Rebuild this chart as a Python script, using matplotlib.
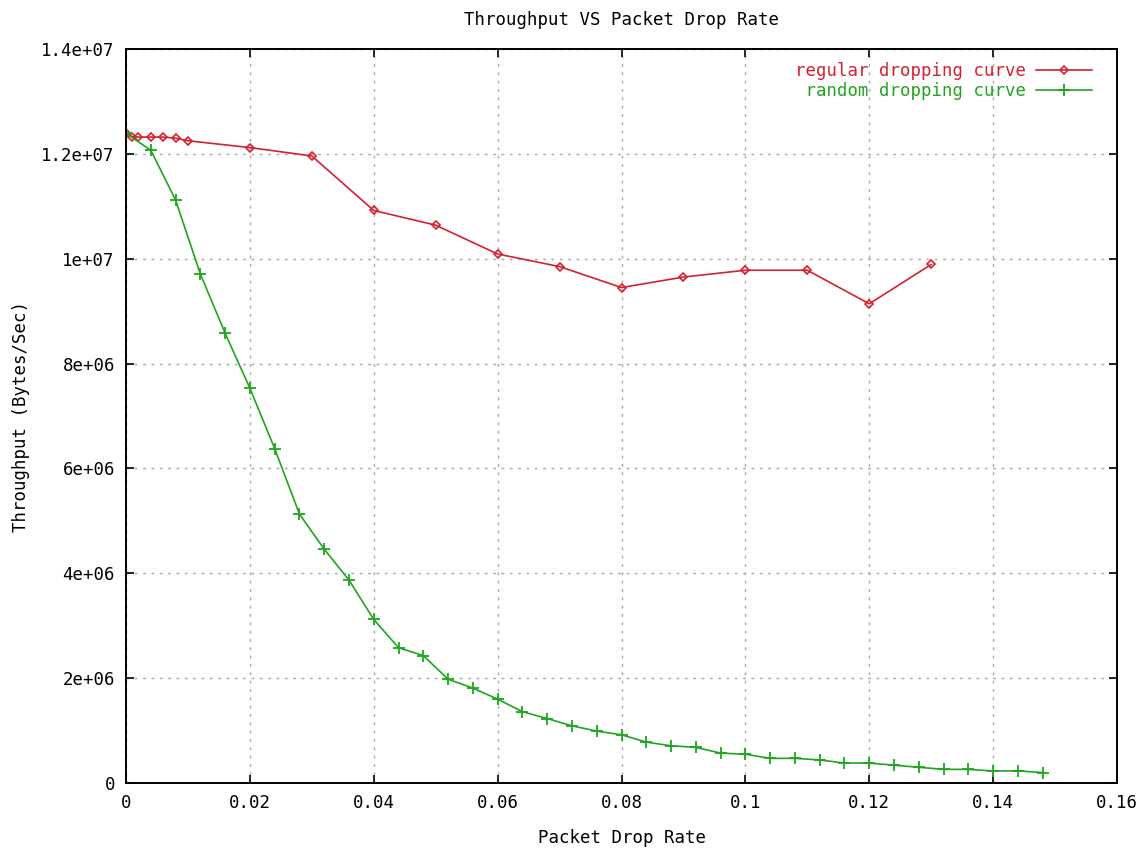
import matplotlib
matplotlib.use("Agg")
import matplotlib.pyplot as plt
from matplotlib.ticker import FixedLocator

# Data
regular_x = [0, 0.001, 0.002, 0.004, 0.006, 0.008, 0.01, 0.02, 0.03, 0.04, 0.05,
             0.06, 0.07, 0.08, 0.09, 0.10, 0.11, 0.12, 0.13]
regular_y = [12.39e6, 12.33e6, 12.32e6, 12.32e6, 12.32e6, 12.30e6, 12.25e6, 12.12e6,
             11.96e6, 10.92e6, 10.64e6, 10.09e6, 9.85e6, 9.45e6, 9.65e6, 9.78e6,
             9.78e6, 9.14e6, 9.89e6]

random_x = [0, 0.004, 0.008, 0.012, 0.016, 0.02, 0.024, 0.028, 0.032, 0.036, 0.04,
            0.044, 0.048, 0.052, 0.056, 0.06, 0.064, 0.068, 0.072, 0.076, 0.08,
            0.084, 0.088, 0.092, 0.096, 0.10, 0.104, 0.108, 0.112, 0.116, 0.12,
            0.124, 0.128, 0.132, 0.136, 0.14, 0.144, 0.148]
random_y = [12.39e6, 12.07e6, 11.12e6, 9.71e6, 8.58e6, 7.53e6, 6.38e6, 5.13e6,
            4.46e6, 3.87e6, 3.12e6, 2.58e6, 2.43e6, 1.98e6, 1.81e6, 1.60e6,
            1.36e6, 1.23e6, 1.09e6, 0.99e6, 0.92e6, 0.78e6, 0.71e6, 0.68e6,
            0.57e6, 0.55e6, 0.47e6, 0.47e6, 0.44e6, 0.38e6, 0.38e6, 0.34e6,
            0.30e6, 0.26e6, 0.26e6, 0.23e6, 0.23e6, 0.20e6]

x_ticks = [0, 0.02, 0.04, 0.06, 0.08, 0.1, 0.12, 0.14, 0.16]
x_tick_labels = ["0", "0.02", "0.04", "0.06", "0.08", "0.1", "0.12", "0.14", "0.16"]
y_ticks = [0, 2e6, 4e6, 6e6, 8e6, 1e7, 1.2e7, 1.4e7]
y_tick_labels = ["0", "2e+06", "4e+06", "6e+06", "8e+06", "1e+07", "1.2e+07", "1.4e+07"]

RED = "#d42030"
GREEN = "#1fa51f"
FONT = "DejaVu Sans Mono"
FS = 12.5

plt.rcParams["font.family"] = FONT

fig = plt.figure(figsize=(11.41, 8.49), dpi=100)
ax = fig.add_axes([126 / 1141, 66 / 849, (1117 - 126) / 1141, (783 - 49) / 849])

ax.plot(regular_x, regular_y, color=RED, lw=1.2, marker="D", ms=4,
        mfc="none", mec=RED, mew=1.2, label="regular dropping curve")
ax.plot(random_x, random_y, color=GREEN, lw=1.2, marker="+", ms=9,
        mew=1.3, label=" random dropping curve")

ax.set_xlim(0, 0.16)
ax.set_ylim(0, 1.4e7)
ax.xaxis.set_major_locator(FixedLocator(x_ticks))
ax.set_xticklabels(x_tick_labels)
ax.yaxis.set_major_locator(FixedLocator(y_ticks))
ax.set_yticklabels(y_tick_labels)

ax.tick_params(direction="in", length=6, width=1.2, top=True, right=True,
               labelsize=FS, pad=8, colors="black")
for s in ax.spines.values():
    s.set_linewidth(1.4)

ax.grid(True, color="#a8a8a8", linestyle=(0, (2, 4)), linewidth=1.0)
ax.set_axisbelow(True)

ax.set_title("Throughput VS Packet Drop Rate", fontsize=FS, pad=17)
ax.set_xlabel("Packet Drop Rate", fontsize=FS, labelpad=12)
ax.set_ylabel("Throughput (Bytes/Sec)", fontsize=FS, labelpad=8)

leg = ax.legend(loc="upper right", bbox_to_anchor=(0.985, 0.997), frameon=False,
                markerfirst=False, fontsize=FS, handlelength=3.2,
                labelcolor="linecolor", borderaxespad=0.2, labelspacing=0.15,
                handletextpad=0.6)

fig.savefig("out.png", dpi=100)
